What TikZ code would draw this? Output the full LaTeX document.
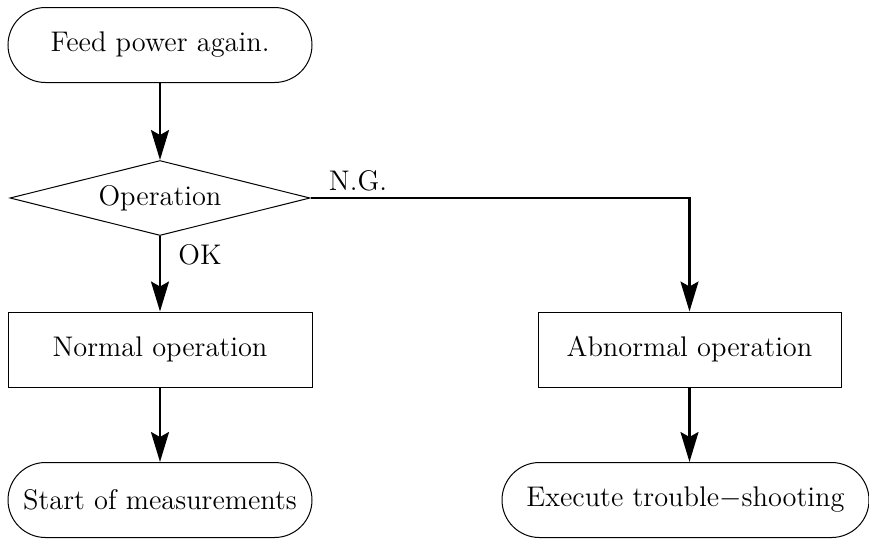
\documentclass[tikz,border=0pt]{standalone}
\usetikzlibrary{shapes.geometric,arrows.meta}
\tikzset{
  chart/.style={font=\fontsize{14.2}{16}\selectfont, draw, line width=0.5pt, inner sep=0pt},
  terminal/.style={chart, rectangle, minimum width=152pt, minimum height=37.5pt, rounded corners=18.75pt},
  procbox/.style={chart, rectangle, minimum width=152pt, minimum height=37.5pt},
  decision/.style={chart, diamond, shape aspect=4, minimum width=150pt, minimum height=37.5pt},
  flow/.style={line width=1.25pt, -{Stealth[length=15pt, width=9pt, inset=2.5pt]}},
  branch/.style={font=\fontsize{14.2}{16}\selectfont, inner sep=0pt}
}
\begin{document}
\begin{tikzpicture}[x=0.5pt, y=-0.5pt]
  \useasboundingbox (0,0) rectangle (869,538);
  % left column
  \node[terminal] (feed) at (160,45) {Feed power again.};
  \node[decision] (op) at (160,198) {Operation};
  \node[procbox] (normal) at (160,349.5) {Normal operation};
  \node[terminal] (start) at (160,500) {Start of measurements};
  % right column
  \node[procbox, minimum width=151.5pt] (abn) at (689.5,349.5) {Abnormal operation};
  \node[terminal, minimum width=183.5pt] (exec) at (685.5,500) {Execute trouble{$-$}shooting};
  % branch labels
  \node[branch] (ok) at (200,255) {OK};
  \node[branch] (ng) at (358,181) {N.G.};
  % connectors
  \draw[flow] (feed) -- (op);
  \draw[flow] (op.south) -- (normal.north);
  \draw[flow] (op.east) -| (abn.north);
  \draw[flow] (normal) -- (start);
  \draw[flow] (abn.south) -- (abn.south |- exec.north);
\end{tikzpicture}
\end{document}
